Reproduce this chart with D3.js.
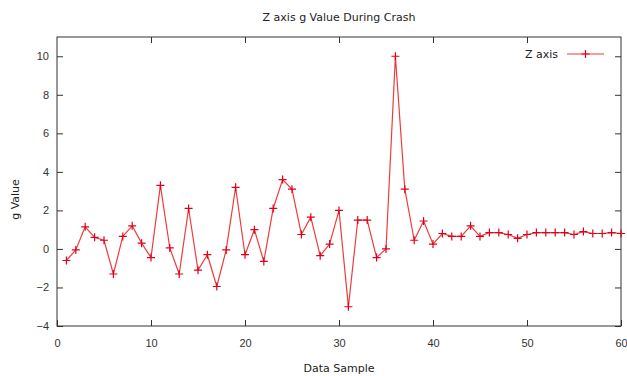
<!DOCTYPE html>
<html>
<head>
<meta charset="utf-8">
<script src="https://cdn.jsdelivr.net/npm/d3@7"></script>
<style>
  html, body { margin: 0; padding: 0; background: #fff; }
  svg { display: block; font-family: "DejaVu Sans", Verdana, sans-serif; }
</style>
</head>
<body>
<svg id="chart" width="627" height="376"></svg>
<script>
// Z-axis acceleration (g) for each data sample
const samples = d3.range(1, 61);
const zValues = [
  -0.6, -0.05, 1.15, 0.6, 0.45, -1.3, 0.65, 1.2, 0.3, -0.45,
  3.3, 0.05, -1.3, 2.1, -1.1, -0.3, -1.95, -0.05, 3.2, -0.3,
  1.0, -0.65, 2.1, 3.6, 3.1, 0.75, 1.65, -0.35, 0.25, 2.0,
  -3.0, 1.5, 1.5, -0.45, 0.0, 10.0, 3.1, 0.45, 1.45, 0.25,
  0.8, 0.65, 0.65, 1.2, 0.65, 0.85, 0.85, 0.75, 0.55, 0.75,
  0.85, 0.85, 0.85, 0.85, 0.75, 0.9, 0.8, 0.8, 0.85, 0.8
];
const xTicks = [0, 10, 20, 30, 40, 50, 60];
const yTicks = [-4, -2, 0, 2, 4, 6, 8, 10];
const titleText = "Z axis g Value During Crash";
const xLabel = "Data Sample";
const yLabel = "g Value";
const seriesName = "Z axis";

const svg = d3.select("#chart");
const m = { left: 57, right: 621, top: 37, bottom: 326 };

const x = d3.scaleLinear().domain([0, 60]).range([m.left, m.right]);
const y = d3.scaleLinear().domain([-4, 11]).range([m.bottom, m.top]);

const axisColor = "#333";
const tickLen = 6;
const lineColor = "#ee3b3b";
const markColor = "#e0001b";

// axes with inward ticks, mirrored on the opposite sides
function styleAxis(g) {
  g.select(".domain").remove();
  g.selectAll(".tick line").attr("stroke", axisColor);
  g.selectAll(".tick text").attr("fill", "#333").style("font-size", "11px");
}
svg.append("g").attr("transform", `translate(0,${m.bottom})`)
  .call(d3.axisBottom(x).tickValues(xTicks).tickSizeInner(-tickLen).tickPadding(13).tickFormat(d3.format("d")))
  .call(styleAxis);
svg.append("g").attr("transform", `translate(0,${m.top})`)
  .call(d3.axisTop(x).tickValues(xTicks.slice(1, -1)).tickSizeInner(-tickLen).tickFormat(""))
  .call(styleAxis);
svg.append("g").attr("transform", `translate(${m.left},0)`)
  .call(d3.axisLeft(y).tickValues(yTicks).tickSizeInner(-tickLen).tickPadding(8).tickFormat(d3.format("d")))
  .call(styleAxis);
svg.append("g").attr("transform", `translate(${m.right},0)`)
  .call(d3.axisRight(y).tickValues(yTicks).tickSizeInner(-tickLen).tickFormat(""))
  .call(styleAxis);

// plot border
svg.append("rect")
  .attr("x", m.left).attr("y", m.top)
  .attr("width", m.right - m.left).attr("height", m.bottom - m.top)
  .attr("fill", "none").attr("stroke", axisColor).attr("stroke-width", 1);

// series line
const line = d3.line().x((d, i) => x(samples[i])).y(d => y(d));
svg.append("path")
  .datum(zValues)
  .attr("d", line)
  .attr("fill", "none")
  .attr("stroke", lineColor)
  .attr("stroke-width", 1.2)
  .attr("stroke-linejoin", "round");

// plus markers
const plus = (cx, cy, r) => `M${cx - r},${cy}H${cx + r}M${cx},${cy - r}V${cy + r}`;
svg.append("g").selectAll("path")
  .data(zValues)
  .join("path")
  .attr("d", (d, i) => plus(x(samples[i]), y(d), 4))
  .attr("stroke", markColor)
  .attr("stroke-width", 1.2);

// title and axis labels
svg.append("text")
  .attr("x", (m.left + m.right) / 2).attr("y", 21)
  .attr("text-anchor", "middle").attr("fill", "#222")
  .style("font-size", "11px").text(titleText);
svg.append("text")
  .attr("x", (m.left + m.right) / 2).attr("y", 372)
  .attr("text-anchor", "middle").attr("fill", "#222")
  .style("font-size", "11px").text(xLabel);
svg.append("text")
  .attr("transform", `translate(19,${(m.top + m.bottom) / 2 + 18}) rotate(-90)`)
  .attr("text-anchor", "middle").attr("fill", "#222")
  .style("font-size", "11px").text(yLabel);

// legend
const legY = 54;
svg.append("text")
  .attr("x", 558).attr("y", legY + 4)
  .attr("text-anchor", "end").attr("fill", "#222")
  .style("font-size", "11px").text(seriesName);
svg.append("line")
  .attr("x1", 567).attr("x2", 604).attr("y1", legY).attr("y2", legY)
  .attr("stroke", lineColor).attr("stroke-width", 1.2);
svg.append("path")
  .attr("d", plus(585.5, legY, 4))
  .attr("stroke", markColor).attr("stroke-width", 1.2);
</script>
</body>
</html>
